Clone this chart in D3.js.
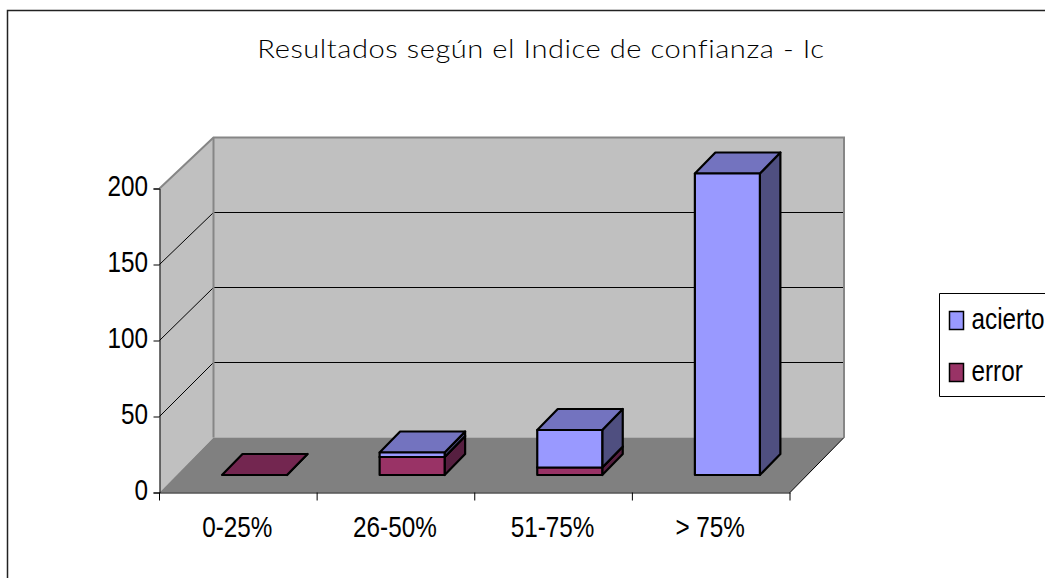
<!DOCTYPE html>
<html>
<head>
<meta charset="utf-8">
<style>
  html, body { margin: 0; padding: 0; background: #fff; }
  svg { display: block; }
  .lbl { font-family: "Liberation Sans", Arial, sans-serif; font-size: 30px; fill: #000; }
</style>
<script src="https://cdnjs.cloudflare.com/ajax/libs/d3/7.8.5/d3.min.js"></script>
</head>
<body>
<div id="chart"></div>
<script>
const categories = ['0-25%', '26-50%', '51-75%', '> 75%'];
const errorValues = [0, 12, 5, 0];
const aciertoValues = [0, 3, 25, 201];
const yTicks = [0, 50, 100, 150, 200];
const chartTitle = 'Resultados según el Indice de confianza - Ic';
const legendLabels = ['acierto', 'error'];

const W = 1045, H = 578;
const svg = d3.select('#chart').append('svg').attr('width', W).attr('height', H);

// colours: front / side / top
const colors = {
    acierto: { front: '#9999ff', side: '#4f4f80', top: '#7373bf' },
    error: { front: '#993366', side: '#561f40', top: '#732650' },
    wall: '#c0c0c0', floor: '#808080', edge: '#868686'
};

// labels in the reference are squeezed sideways
const squeeze = 0.81;

// 1. FRAME + TITLE
svg.append('path').attr('d', `M7.5,${H}V10.5H${W}`).attr('fill', 'none').attr('stroke', '#222').attr('stroke-width', 1.5);
svg.append('text')
    .attr('transform', 'translate(541,58) scale(1.12,1)')
    .attr('text-anchor', 'middle')
    .attr('font-family', 'Lato, sans-serif')
    .attr('font-size', 26)
    .attr('font-weight', 300)
    .attr('letter-spacing', 0.49)
    .attr('fill', '#000')
    .text(chartTitle);

// 2. SCALES (front plane, back wall, plane the bars stand on)
const xFront = d3.scaleBand().domain(categories).range([159.5, 790]);
const yFront = d3.scaleLinear().domain([0, 200]).range([492.5, 188.5]);
const yBack = d3.scaleLinear().domain([0, 200]).range([437.5, 137.5]);
const yBar = d3.scaleLinear().domain([0, 200]).range([475, 175]);
const depthX = 54;
const backL = xFront.range()[0] + depthX, backR = xFront.range()[1] + depthX;
const frontL = xFront.range()[0], frontR = xFront.range()[1];
const barOffset = 62.5, barWidth = 65, barDepthX = 20.5, barDepthY = 21;

const line = d3.line();
const g = svg.append('g');

// 3. WALLS AND FLOOR
g.append('path')
    .attr('d', line([[backL, yBack(200)], [backR, yBack(200)], [backR, yBack(0)], [backL, yBack(0)]]) + 'Z')
    .attr('fill', colors.wall);
g.append('path')
    .attr('d', line([[frontL, yFront(200)], [backL, yBack(200)], [backL, yBack(0)], [frontL, yFront(0)]]) + 'Z')
    .attr('fill', colors.wall);
g.append('path')
    .attr('d', line([[frontL, yFront(0)], [backL, yBack(0)], [backR, yBack(0)], [frontR, yFront(0)]]) + 'Z')
    .attr('fill', colors.floor);

// gridlines
yTicks.filter(t => t > 0 && t < 200).forEach(t => {
    g.append('path')
        .attr('d', line([[frontL, yFront(t)], [backL, yBack(t)], [backR, yBack(t)]]))
        .attr('fill', 'none').attr('stroke', '#000').attr('stroke-width', 1);
});

// grey wall edges
g.append('path')
    .attr('d', line([[frontL, yFront(200)], [backL, yBack(200)], [backR, yBack(200)], [backR, yBack(0)]]))
    .attr('fill', 'none').attr('stroke', colors.edge).attr('stroke-width', 2);
g.append('path')
    .attr('d', line([[backL, yBack(200)], [backL, yBack(0)]]))
    .attr('fill', 'none').attr('stroke', colors.edge).attr('stroke-width', 2);
g.append('path')
    .attr('d', line([[frontR, yFront(0)], [backR, yBack(0)]]))
    .attr('fill', 'none').attr('stroke', '#000').attr('stroke-width', 1);

// 4. BARS
function drawBox(x0, yTop, yBase, c) {
    const x1 = x0 + barWidth;
    const box = g.append('g').attr('stroke', '#000').attr('stroke-width', 2.2).attr('stroke-linejoin', 'round');
    box.append('path')
        .attr('d', line([[x1, yTop], [x1 + barDepthX, yTop - barDepthY], [x1 + barDepthX, yBase - barDepthY], [x1, yBase]]) + 'Z')
        .attr('fill', c.side);
    box.append('path')
        .attr('d', line([[x0, yTop], [x0 + barDepthX, yTop - barDepthY], [x1 + barDepthX, yTop - barDepthY], [x1, yTop]]) + 'Z')
        .attr('fill', c.top);
    if (yBase > yTop) {
        box.append('rect')
            .attr('x', x0).attr('y', yTop)
            .attr('width', barWidth).attr('height', yBase - yTop)
            .attr('fill', c.front);
    }
}

categories.forEach((cat, i) => {
    const x0 = xFront(cat) + barOffset;
    const err = errorValues[i], ok = aciertoValues[i];
    if (err > 0 || err + ok === 0) drawBox(x0, yBar(err), yBar(0), colors.error);
    if (ok > 0) drawBox(x0, yBar(err + ok), yBar(err), colors.acierto);
});

// 5. AXES
const axisY = svg.append('g')
    .attr('transform', `translate(${frontL},0)`)
    .call(d3.axisLeft(yFront).tickValues(yTicks).tickSize(6));
const axisX = svg.append('g')
    .attr('transform', `translate(0,${yFront(0)})`)
    .call(d3.axisBottom(xFront).tickSize(0));
axisY.selectAll('text')
    .attr('class', 'lbl').attr('font-family', null).attr('font-size', null).attr('fill', null)
    .attr('transform', `scale(${squeeze},1)`)
    .attr('x', -11.5 / squeeze).attr('y', -2.5);
axisX.selectAll('text')
    .attr('class', 'lbl').attr('font-family', null).attr('font-size', null).attr('fill', null)
    .attr('transform', `translate(-1,0) scale(${squeeze},1)`)
    .attr('dy', null).attr('y', 44.5);
axisX.append('g').selectAll('line')
    .data(categories.map(c => xFront(c)).concat([frontR]))
    .join('line')
    .attr('x1', d => d).attr('x2', d => d)
    .attr('y1', 0).attr('y2', 8)
    .attr('stroke', '#000');

// 6. LEGEND
const legend = svg.append('g');
legend.append('path')
    .attr('d', `M${W},293.5H939.5V396.5H${W}`)
    .attr('fill', '#fff').attr('stroke', '#000').attr('stroke-width', 1);
const legendColors = [colors.acierto.front, colors.error.front];
legendLabels.forEach((name, i) => {
    const top = 311.5 + i * 52;
    legend.append('rect')
        .attr('x', 949.5).attr('y', top)
        .attr('width', 14).attr('height', 18)
        .attr('fill', legendColors[i]).attr('stroke', '#000').attr('stroke-width', 1.5);
    legend.append('text')
        .attr('class', 'lbl')
        .attr('transform', `translate(971.5,${top + 17}) scale(${squeeze},1)`)
        .text(name);
});
</script>
</body>
</html>
